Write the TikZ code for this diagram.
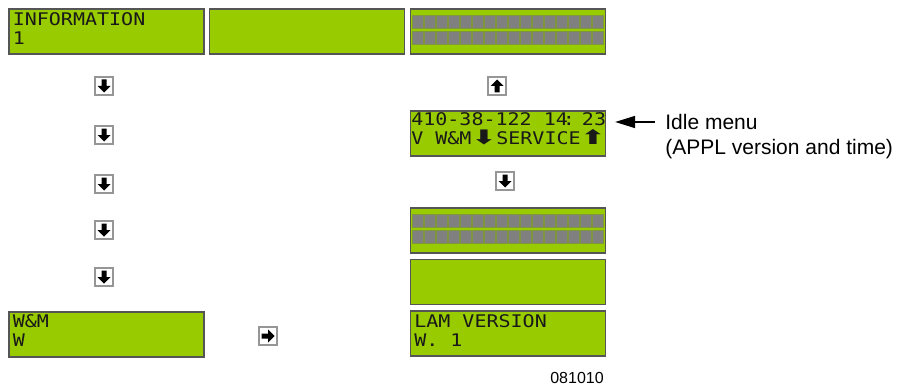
\documentclass[tikz,border=0pt]{standalone}
\usepackage{fontspec}
\setmainfont{Liberation Sans}
\newfontfamily\lcdfont[FakeStretch=1.15]{DejaVu Sans Mono}
\newfontfamily\symfont{DejaVu Sans Bold}
\usepackage{xcolor}
\usetikzlibrary{arrows.meta}

\definecolor{lcdgreen}{RGB}{153,204,0}
\definecolor{lcdedge}{RGB}{85,85,85}
\definecolor{cellgray}{RGB}{128,128,128}
\definecolor{cellgap}{RGB}{128,150,60}
\definecolor{keyedge}{RGB}{150,150,150}
\definecolor{lcdink}{RGB}{25,25,25}

\tikzset{
	lcd/.style = {draw = lcdedge, fill = lcdgreen, line width = 0.6pt, minimum width = 97.5pt, minimum height = 22.5pt, inner sep = 0pt},
	lcdtext/.style = {font = \lcdfont\fontsize{8.7pt}{9.5pt}\selectfont, text = lcdink, anchor = base west, align = left, inner sep = 0pt},
	cell/.style = {fill = cellgray, draw = cellgap, line width = 0.25pt},
	key/.style = {draw = keyedge, fill = white, line width = 0.6pt, minimum size = 9pt, inner sep = 0pt},
	note/.style = {font = \fontsize{10.5pt}{12pt}\selectfont, anchor = west, inner sep = 0pt},
	pointer/.style = {line width = 0.75pt, -{Triangle[length = 10pt, width = 6pt]}}
}

% arrow glyph inside a key, #2 = turn (0 down, 180 up, 90 right)
\newcommand{\keyarrow}[2]{\fill [shift = {(#1.center)}, rotate = #2] (-2.5,-6.5) -- (2.5,-6.5) -- (2.5,0) -- (6.5,0) -- (0,6.5) -- (-6.5,0) -- (-2.5,0) -- cycle;}
\newcommand{\lcdarrow}[1]{\scalebox{1.7}[1.15]{\symfont #1}}

\begin{document}
\begin{tikzpicture} [x = 0.5pt, y = -0.5pt]
	\useasboundingbox (0,0) rectangle (904,385);

	% displays
	\node [lcd] (info) at (106.5,31.5) {};
	\node [lcd] (blankA) at (307,31.5) {};
	\node [lcd] (gridA) at (508,31.5) {};
	\node [lcd] (idle) at (508,133.5) {};
	\node [lcd] (gridB) at (508,230.5) {};
	\node [lcd] (blankB) at (508,282) {};
	\node [lcd] (wm) at (106.5,334.5) {};
	\node [lcd] (lam) at (508,333.5) {};

	\foreach \g in {gridA,gridB} {
		\foreach \i in {0,...,15} {
			\foreach \r in {0,1} {
				\fill [cell] ([shift = {(2+12*\i,6.5+16*\r)}]\g.north west) rectangle ++(11,13.5);
			}
		}
	}

	\node [lcdtext] (infotxt) at ([shift = {(4,36)}]info.north west) {INFORMATION\\1};
	\node [lcdtext] (idletxt) at ([shift = {(1,34)}]idle.north west) {410-38-122 14\kern-2.5pt:\kern-2.5pt\ 23\\V W\&M\lcdarrow{⬇}SERVICE\lcdarrow{⬆}};
	\node [lcdtext] (wmtxt) at ([shift = {(4,35)}]wm.north west) {W\&M\\W};
	\node [lcdtext] (lamtxt) at ([shift = {(4,36)}]lam.north west) {LAM VERSION\\W. 1};

	% keys
	\node [key] (down1) at (104,86) {};
	\node [key] (down2) at (104,135) {};
	\node [key] (down3) at (104,184) {};
	\node [key] (down4) at (104,230) {};
	\node [key] (down5) at (104,277) {};
	\node [key] (up1) at (497,86) {};
	\node [key] (down6) at (505,181) {};
	\node [key] (right1) at (268,336) {};
	\foreach \k in {down1,down2,down3,down4,down5,down6} {
		\keyarrow{\k}{0}
	}
	\keyarrow{up1}{180}
	\keyarrow{right1}{90}

	% idle menu label
	\node [note] (idlelbl) at (665,122) {Idle menu};
	\node [note] (idlenote) at (665,149) {(APPL version and time)};
	\draw [pointer, shorten < = 5pt, shorten > = 4.5pt] (idlelbl.west) -- (idle.east |- idlelbl.west);

	\node [font = \fontsize{8pt}{9pt}\selectfont, inner sep = 0pt] (code) at (577,378) {081010};
\end{tikzpicture}
\end{document}
